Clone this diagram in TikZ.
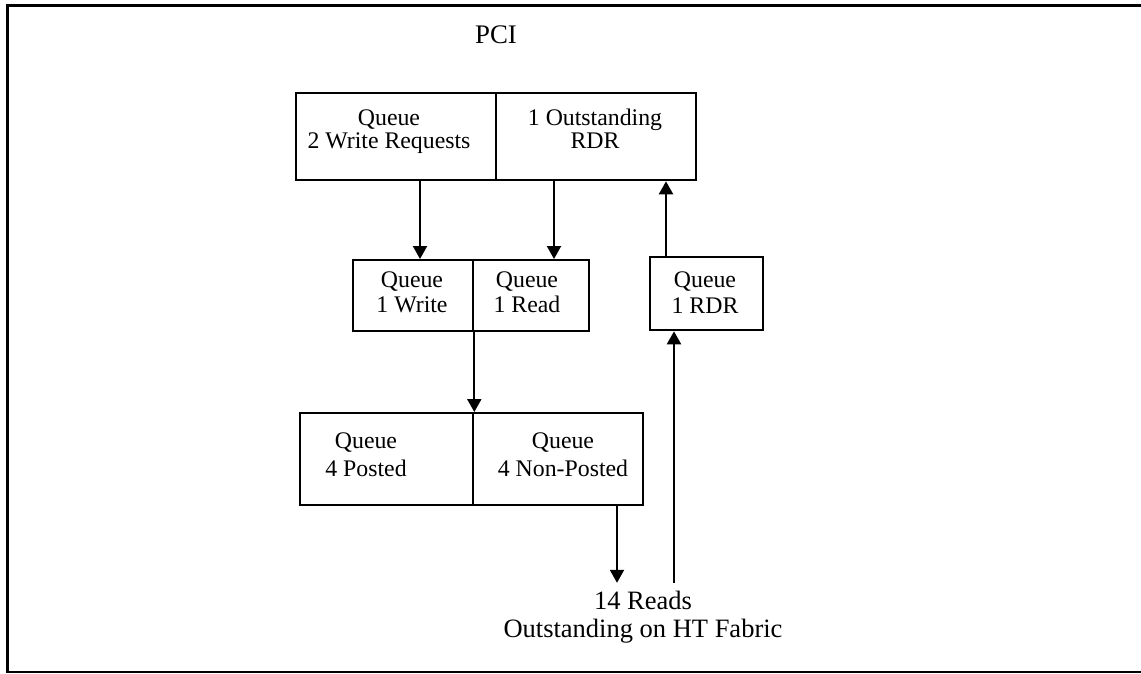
\documentclass[tikz,border=0pt]{standalone}
\usepackage{fontspec}
\setmainfont{Liberation Serif}
\usetikzlibrary{arrows.meta}
\tikzset{
  cell/.style={draw, line width=2.3pt, inner sep=0pt, anchor=north west},
  lbl/.style 2 args={font=\fontsize{#1pt}{#2pt}\selectfont, align=center, inner sep=0pt},
  arr/.style={line width=2.1pt, -{Triangle[length=13pt,width=14pt]}},
  frame/.style={line width=2.7pt}
}
\begin{document}
\begin{tikzpicture}[x=1pt,y=-1pt]
\useasboundingbox (0,0) rectangle (1141,673);
% outer frame (open on the right)
\draw[frame] (1141,5.3) -- (7.3,5.3) -- (7.3,673);
\draw[line width=2pt] (7.3,672) -- (1141,672);

% title
\node[lbl={26.8}{28}, anchor=base] (pci) at (496,43) {PCI};

% boxes
\node[cell, minimum width=200pt, minimum height=87pt] (tl) at (295,92) {};
\node[cell, minimum width=200pt, minimum height=87pt] (tr) at (495,92) {};
\node[cell, minimum width=120pt, minimum height=71pt] (ml) at (352,259) {};
\node[cell, minimum width=116pt, minimum height=71pt] (mr) at (472,259) {};
\node[cell, minimum width=113pt, minimum height=73pt] (rdr) at (649,256) {};
\node[cell, minimum width=173pt, minimum height=92pt] (bl) at (299,412) {};
\node[cell, minimum width=170pt, minimum height=92pt] (br) at (472,412) {};

% texts
\node[lbl={23.8}{23}] (tlt) at (389,131.9) {\strut Queue\\\strut 2 Write Requests};
\node[lbl={23.8}{23}] (trt) at (595,131.9) {\strut 1 Outstanding\\\strut RDR};
\node[lbl={23.8}{25}] (mlt) at (412,294.5) {\strut Queue\\\strut 1 Write};
\node[lbl={23.8}{25}] (mrt) at (527,294.5) {\strut Queue\\\strut 1 Read};
\node[lbl={23.8}{26}] (rdrt) at (705,294.8) {\strut Queue\\\strut 1 RDR};
\node[lbl={23.8}{28}] (blt) at (366,456.4) {\strut Queue\\\strut 4 Posted};
\node[lbl={23.8}{28}] (brt) at (563,456.4) {\strut Queue\\\strut 4 Non-Posted};
\node[lbl={26.5}{28}] (reads) at (643,617.4) {\strut 14 Reads\\\strut Outstanding on HT Fabric};

% connectors
\draw[arr] ([xshift=125pt]tl.south west) -- ([xshift=68pt]ml.north west);
\draw[arr] ([xshift=59pt]tr.south west) -- ([xshift=82pt]mr.north west);
\draw[arr] ([xshift=17pt]rdr.north west) -- ([xshift=171pt]tr.south west);
\draw[arr] (ml.south east) -- (bl.north east);
\draw[arr] ([xshift=145pt]br.south west) -- ([xshift=-26pt,yshift=6.4pt]reads.north);
\draw[arr] ([xshift=31pt,yshift=6.4pt]reads.north) -- ([xshift=25pt]rdr.south west);
\end{tikzpicture}
\end{document}
